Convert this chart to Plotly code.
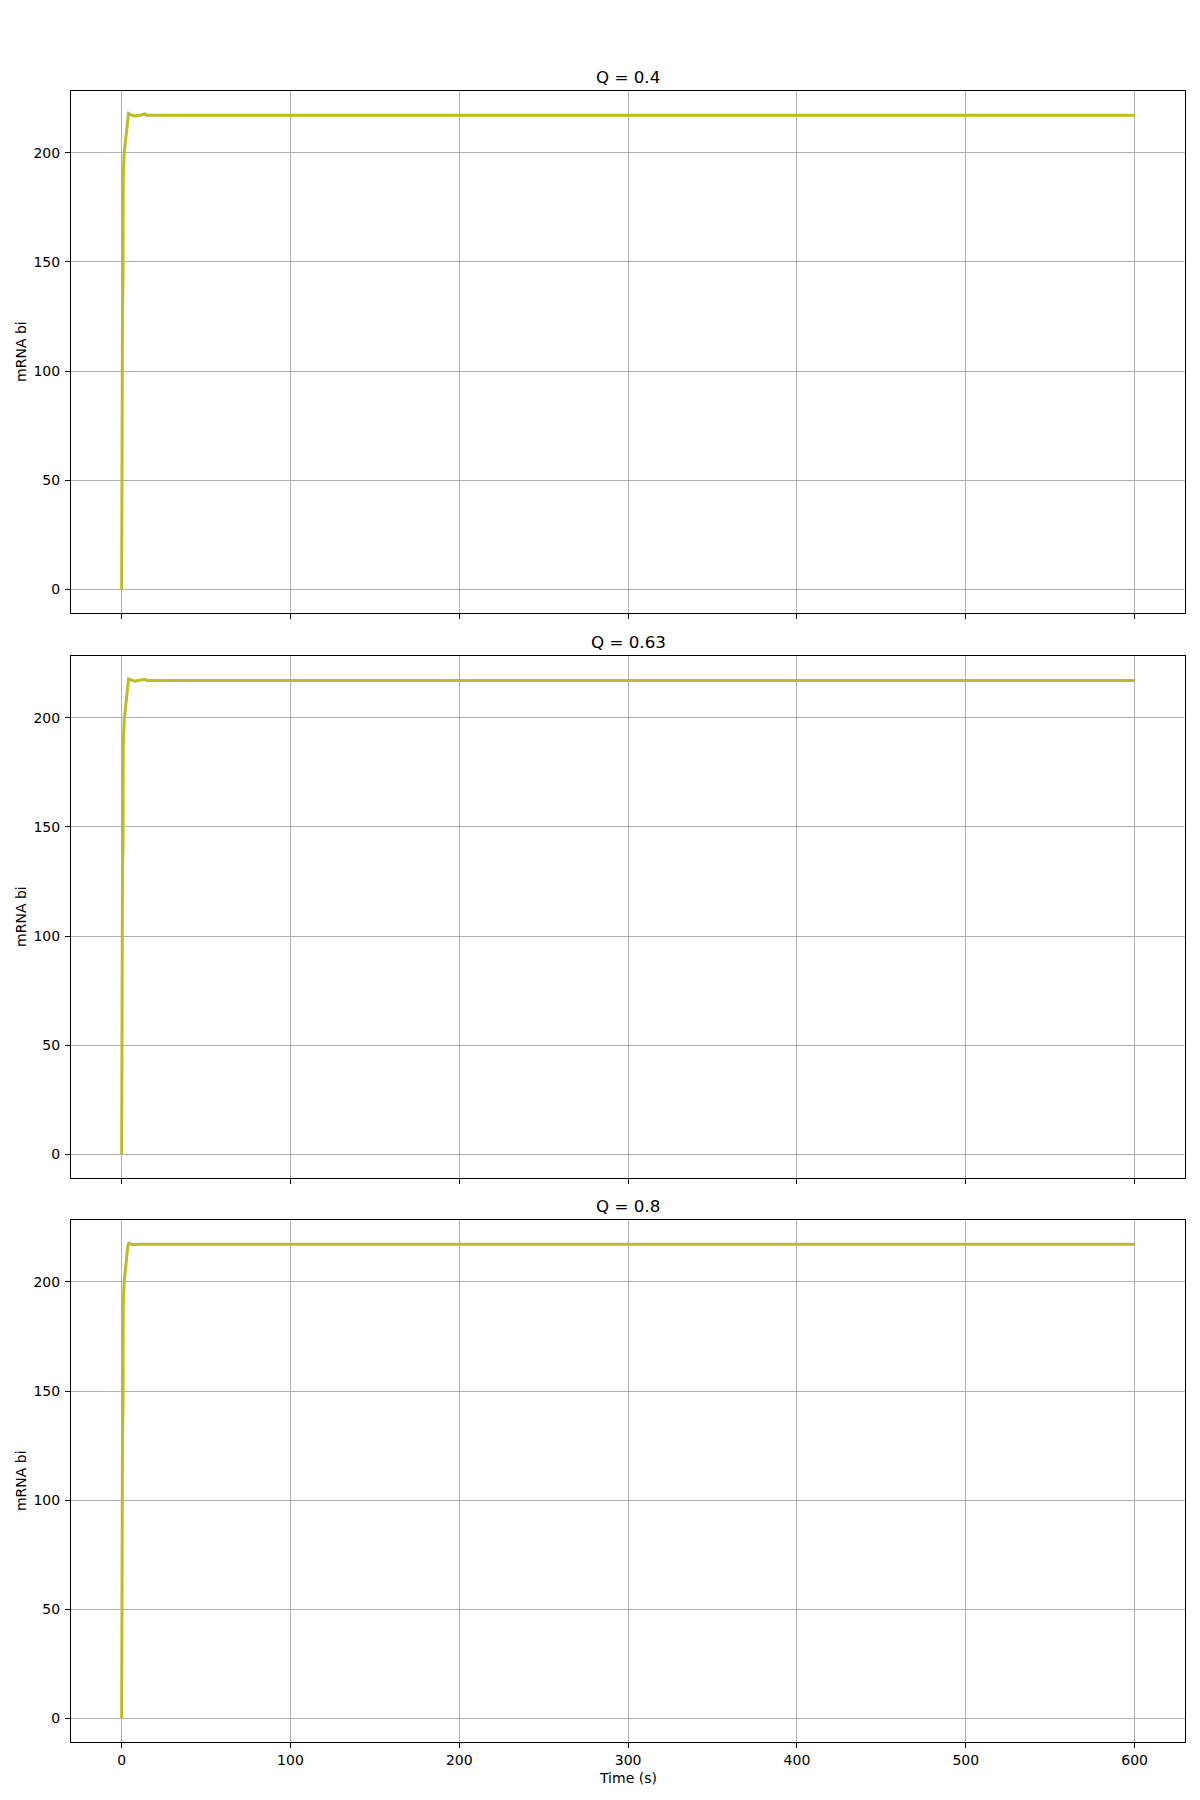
import plotly.graph_objects as go

# ---- data ----
titles = ["Q = 0.4", "Q = 0.63", "Q = 0.8"]

t_q04 = [0, 0.05, 0.4, 0.5, 0.8, 0.9, 1.5, 2.2, 2.8, 3.5, 4.1, 5.0, 6.5, 8.0, 9.0, 11.0, 12.5, 13.6, 15.0, 600]
v_q04 = [0, 58, 72, 130, 142, 188, 200, 205, 210, 216, 218.0, 217.6, 217.0, 216.8, 217.1, 217.2, 217.4, 217.8, 217.2, 217.2]

t_q063 = [0, 0.05, 0.4, 0.5, 0.8, 0.9, 1.5, 2.2, 2.8, 3.5, 4.1, 5.0, 6.5, 8.0, 9.5, 11.0, 12.5, 13.8, 15.0, 600]
v_q063 = [0, 55, 70, 132, 140, 186, 199, 204, 209, 215, 217.8, 217.4, 216.9, 216.7, 217.0, 217.1, 217.3, 217.6, 217.1, 217.1]

t_q08 = [0, 0.05, 0.4, 0.5, 0.8, 0.9, 1.5, 2.2, 2.8, 3.6, 4.3, 5.2, 6.5, 8.0, 10.0, 13.0, 600]
v_q08 = [0, 60, 74, 131, 141, 189, 200, 206, 211, 216, 218.0, 217.3, 217.0, 217.2, 217.2, 217.2, 217.2]

series_t = [t_q04, t_q063, t_q08]
series_v = [v_q04, v_q063, v_q08]

x_ticks = [0, 100, 200, 300, 400, 500, 600]
y_ticks = [0, 50, 100, 150, 200]
x_range = [-30, 630]
y_range = [-10.88, 228.4]

line_color = "#bcbd22"
font_family = "DejaVu Sans"

W, H = 1200, 1800
x_dom = [71 / W, 1185.3 / W]
panels_px = [(90.7, 613.2), (655.7, 1178.2), (1219.8, 1742.3)]

fig = go.Figure()
layout = dict(
    width=W, height=H,
    margin=dict(l=0, r=0, t=0, b=0),
    paper_bgcolor="white", plot_bgcolor="white",
    showlegend=False,
    font=dict(family=font_family, size=14, color="black"),
)
annotations = []

for i in range(3):
    top, bot = panels_px[i]
    ydom = [1 - bot / H, 1 - top / H]
    xa = "xaxis" if i == 0 else f"xaxis{i+1}"
    ya = "yaxis" if i == 0 else f"yaxis{i+1}"
    xref = "x" if i == 0 else f"x{i+1}"
    yref = "y" if i == 0 else f"y{i+1}"
    fig.add_trace(go.Scatter(
        x=series_t[i], y=series_v[i], mode="lines",
        line=dict(color=line_color, width=3),
        xaxis=xref, yaxis=yref, hoverinfo="skip",
    ))
    layout[xa] = dict(
        domain=x_dom, anchor=yref, range=x_range,
        tickvals=x_ticks, ticktext=[str(v) for v in x_ticks],
        showticklabels=(i == 2),
        ticks="outside", ticklen=5, tickwidth=1, tickcolor="black",
        showgrid=True, gridcolor="#b0b0b0", gridwidth=1.1,
        zeroline=False,
        showline=True, linecolor="black", linewidth=1.1, mirror=True,
        tickfont=dict(family=font_family, size=14, color="black"),
    )
    if i > 0:
        layout[xa]["matches"] = "x"
    layout[ya] = dict(
        domain=ydom, anchor=xref, range=y_range,
        tickvals=y_ticks, ticktext=[str(v) for v in y_ticks],
        ticks="outside", ticklen=5, tickwidth=1, tickcolor="black",
        showgrid=True, gridcolor="#b0b0b0", gridwidth=1.1,
        zeroline=False,
        showline=True, linecolor="black", linewidth=1.1, mirror=True,
        tickfont=dict(family=font_family, size=14, color="black"),
        ticklabelstandoff=2,
    )
    # subplot title
    annotations.append(dict(
        text=titles[i], x=(x_dom[0] + x_dom[1]) / 2, y=1 - (top - 2) / H,
        xref="paper", yref="paper", xanchor="center", yanchor="bottom",
        showarrow=False, font=dict(family=font_family, size=16.7, color="black"),
    ))
    # y label
    annotations.append(dict(
        text="mRNA bi", x=21 / W, y=1 - ((top + bot) / 2) / H,
        xref="paper", yref="paper", xanchor="center", yanchor="middle",
        textangle=-90, showarrow=False,
        font=dict(family=font_family, size=14, color="black"),
    ))

annotations.append(dict(
    text="Time (s)", x=(x_dom[0] + x_dom[1]) / 2, y=1 - 1778 / H,
    xref="paper", yref="paper", xanchor="center", yanchor="middle",
    showarrow=False, font=dict(family=font_family, size=14, color="black"),
))
layout["annotations"] = annotations
fig.update_layout(**layout)
fig.write_html("out.html")
